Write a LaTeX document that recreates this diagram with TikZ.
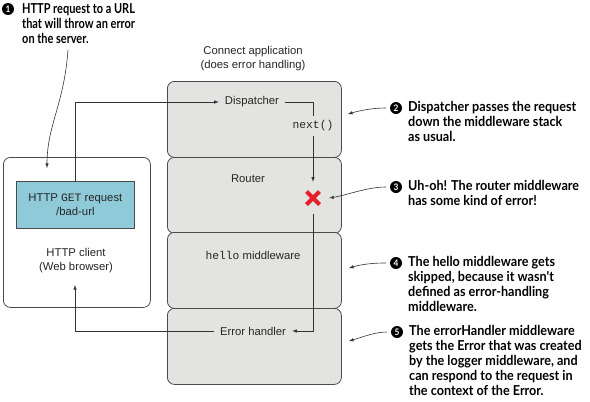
\documentclass[tikz,border=0pt]{standalone}
\usepackage{fontspec}
\setmainfont{Liberation Sans}
\setmonofont{Liberation Mono}
\newfontfamily\notefont{Lato}[FakeStretch=0.92]
\newfontfamily\narrownotefont{Lato}[FakeStretch=0.8]
\usetikzlibrary{positioning}

\definecolor{layergray}{HTML}{E3E4E1}
\definecolor{reqblue}{HTML}{8FCAD9}
\definecolor{errred}{HTML}{E5202A}
\definecolor{edgegray}{HTML}{4A4A4A}

\def\stackLeft{167}

\tikzset{
    >=latex,
    layer/.style={draw=edgegray, fill=layergray, rounded corners=7pt, line width=0.8pt,
        minimum width=174pt, minimum height=76pt, inner sep=0pt, anchor=north west},
    lbl/.style={font=\fontsize{11.3}{14}\selectfont, text=black!85, inner xsep=6pt, inner ysep=2pt, align=center},
    flow/.style={draw=black!80, line width=0.6pt},
    bullet/.style={circle, fill=black, text=white, inner sep=0pt, minimum size=12pt,
        font=\notefont\bfseries\fontsize{9}{9}\selectfont},
    note/.style={anchor=north west, align=left, inner sep=0pt,
        font=\notefont\bfseries\fontsize{13.7}{14.8}\selectfont},
}

\begin{document}
\begin{tikzpicture}[x=1pt,y=-1pt]
    \useasboundingbox (0,0) rectangle (590,402);

    % the middleware stack
    \foreach \name/\top in {disp/81,rout/157,hello/232,errh/308}{%
            \node[layer] (\name) at (\stackLeft,\top) {};
        }

    \node[lbl] (appL) at (253,59) {Connect application\\(does error handling)};
    \node[lbl] (dispL) at (252,102) {Dispatcher};
    \node[lbl] (routL) at (248,179) {Router};
    \node[lbl] (helloL) at (253,255) {\texttt{hello} middleware};
    \node[lbl] (errL) at (253,331) {Error handler};
    \node[lbl, inner ysep=5pt] (nextL) at (313,126) {\texttt{next()}};
    \node[minimum size=32pt, inner sep=0pt] (errX) at (313,198) {};
    \draw[errred, line width=4pt] (errX.center) ++(-6.5,-6.5) -- ++(13,13)
        (errX.center) ++(6.5,-6.5) -- ++(-13,13);

    % the client
    \node[draw=edgegray, fill=white, rounded corners=7pt, line width=0.8pt,
        minimum width=147pt, minimum height=150pt, anchor=north west] (client) at (3,157) {};
    \node[draw=edgegray, fill=reqblue, line width=0.8pt, minimum width=118pt, minimum height=47pt,
        anchor=north west, lbl] (req) at (16,181) {HTTP \texttt{GET} request\\/bad-url};
    \node[lbl] (cliL) at (76,261) {HTTP client\\(Web browser)};
    \coordinate (cliIn) at (75,285);

    % request path
    \draw[flow,->] (req.north) |- (dispL.west);
    \draw[flow] (dispL.east) -| (nextL.north);
    \draw[flow,->] (nextL.south) -- (errX.north);
    \draw[flow,->] (errX.south) |- (errL.east);
    \draw[flow,->] (errL.west) -| (cliIn);

    % notes
    \node[bullet] (b1) at (8,9) {1};
    \node[note, font=\narrownotefont\bfseries\fontsize{13.7}{14.8}\selectfont] (n1) at (22,3.5)
        {HTTP request to a URL\\that will throw an error\\on the server.};
    \node[bullet] (b2) at (396,108) {2};
    \node[note] (n2) at (408,101.5) {Dispatcher passes the request\\down the middleware stack\\as usual.};
    \node[bullet] (b3) at (396,187) {3};
    \node[note] (n3) at (408,180.5) {Uh-oh! The router middleware\\has some kind of error!};
    \node[bullet] (b4) at (396,263) {4};
    \node[note] (n4) at (408,256.5) {The hello middleware gets\\skipped, because it wasn't\\defined as error-handling\\middleware.};
    \node[bullet] (b5) at (397,332) {5};
    \node[note] (n5) at (409,325.5) {The errorHandler middleware\\gets the Error that was created\\by the logger middleware, and\\can respond to the request in\\the context of the Error.};

    \coordinate (s1) at (68,50);
    \coordinate (t1) at (47,168);
    \coordinate (t2) at (348,114);
    \coordinate (t4) at (349,268);
    \coordinate (t5) at (349,341);

    \draw[flow,->] (s1) .. controls (64,105) and (47,125) .. (t1);
    \draw[flow,->,shorten <=4pt] (b2.west) .. controls +(-16,0) and +(14,-4) .. (t2);
    \draw[flow,->,shorten <=4pt] (b3.west) .. controls +(-22,0) and +(18,-3) .. (errX.east);
    \draw[flow,->,shorten <=4pt] (b4.west) .. controls +(-16,0) and +(14,-4) .. (t4);
    \draw[flow,->,shorten <=4pt] (b5.west) .. controls +(-16,0) and +(14,-4) .. (t5);
\end{tikzpicture}
\end{document}
